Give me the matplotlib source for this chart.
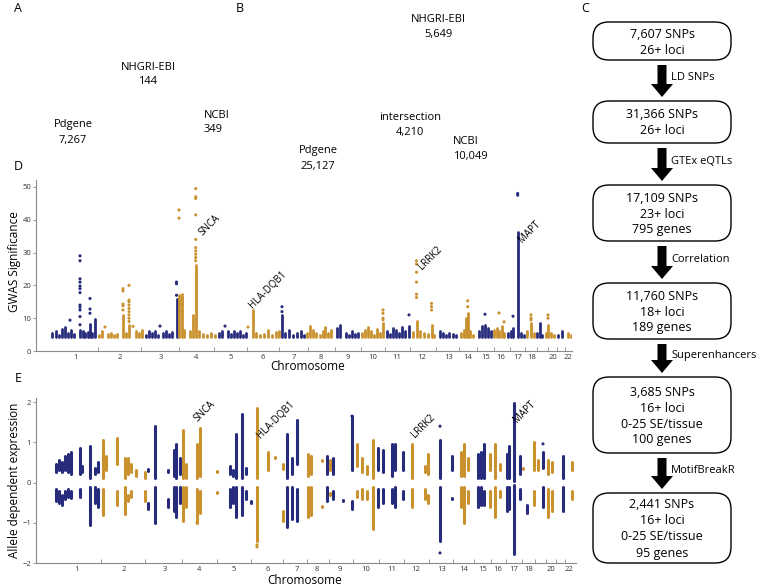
import numpy as np
import matplotlib
matplotlib.use("Agg")
import matplotlib.pyplot as plt
from matplotlib.patches import FancyBboxPatch, FancyArrow

plt.rcParams['font.family'] = ['Open Sans', 'DejaVu Sans']

BLUE = '#262b7c'
ORANGE = '#c9922f'
W, H = 761, 588

# ---------------- data ----------------
# panel D: (chromosome, position, top of dense stack) ; stacks start at the GWAS threshold
gwas_base = 4.2
gwas_cols = [
    (1, 52, 5.5), (1, 56, 6.2), (1, 59, 5.0), (1, 62, 6.8), (1, 65, 7.2), (1, 68, 5.6), (1, 71, 6.3),
    (1, 74, 5.2), (1, 80, 6.5), (1, 83, 6.0), (1, 85, 5.5), (1, 88, 5.8), (1, 90, 8.3), (1, 92, 5.5),
    (1, 95, 9.7),
    (2, 99, 5.0), (2, 102, 6.0), (2, 108, 5.2), (2, 111, 5.5), (2, 114, 5.0), (2, 117, 5.2),
    (2, 123, 11.0), (2, 126, 5.5), (2, 129, 8.0), (2, 136, 6.2), (2, 139, 5.5), (2, 142, 6.5),
    (3, 146, 5.0), (3, 149, 6.2), (3, 152, 5.5), (3, 155, 6.0), (3, 158, 5.0), (3, 163, 5.5),
    (3, 166, 6.0), (3, 169, 5.2), (3, 172, 5.8), (3, 176.5, 15.7),
    (4, 179, 17.0), (4, 182, 17.5), (4, 184, 6.5), (4, 190, 6.0), (4, 192.5, 11.0), (4, 195.7, 26.2),
    (4, 199, 6.0), (4, 203, 5.2), (4, 207, 5.0), (4, 211, 5.5), (4, 215, 5.0),
    (5, 219, 5.5), (5, 222, 6.2), (5, 228, 6.0), (5, 231, 5.2), (5, 234, 6.0), (5, 237, 5.5),
    (5, 240, 6.2), (5, 243, 5.0), (5, 246, 5.5),
    (6, 253, 12.4), (6, 256, 5.5), (6, 260, 5.0), (6, 264, 5.2), (6, 268, 6.5), (6, 272, 5.0),
    (6, 276, 5.8), (6, 279, 6.0),
    (7, 282, 11.0), (7, 285, 5.5), (7, 289, 6.5), (7, 293, 5.0), (7, 297, 5.5), (7, 301, 6.2), (7, 304, 5.0),
    (8, 307, 5.5), (8, 310, 7.6), (8, 313, 6.5), (8, 316, 5.5), (8, 320, 5.0), (8, 323, 6.0),
    (8, 325, 7.3), (8, 328, 5.5), (8, 331, 6.5),
    (9, 337, 7.0), (9, 340, 7.9), (9, 346, 5.5), (9, 349, 5.0), (9, 352, 6.0), (9, 355, 5.2), (9, 358, 5.5),
    (10, 362, 5.5), (10, 365, 6.5), (10, 368, 7.2), (10, 371, 6.0), (10, 374, 5.0), (10, 377, 6.8),
    (10, 380, 5.5), (10, 383, 8.5),
    (11, 387, 6.0), (11, 390, 5.2), (11, 393, 7.0), (11, 396, 6.5), (11, 399, 5.5), (11, 402, 7.2),
    (11, 405, 6.0), (11, 409, 7.5),
    (12, 413, 5.8), (12, 416.5, 9.0), (12, 420, 6.0), (12, 424, 5.5), (12, 428, 5.2), (12, 431.5, 8.0),
    (12, 434, 5.0),
    (13, 440, 6.0), (13, 443, 5.5), (13, 446, 5.0), (13, 449, 5.5), (13, 453, 5.2), (13, 456, 5.0),
    (14, 461, 5.5), (14, 464, 6.5), (14, 466, 10.0), (14, 467.7, 11.5), (14, 470, 6.0), (14, 473, 5.0),
    (15, 479, 6.0), (15, 482, 7.5), (15, 485, 8.0), (15, 488, 7.0), (15, 491, 6.0),
    (16, 494, 6.5), (16, 497, 7.0), (16, 499, 6.0), (16, 502, 7.5), (16, 504, 5.5),
    (17, 508, 5.5), (17, 511, 6.0), (17, 513, 7.0), (17, 517.7, 36.4), (17, 521, 5.5), (17, 524, 5.0),
    (18, 527, 6.0), (18, 531, 8.5), (18, 534, 5.5),
    (19, 537, 5.5), (19, 539.5, 8.6), (19, 542, 5.0),
    (20, 546, 5.5), (20, 548, 8.0), (20, 551, 5.5), (20, 554, 5.0),
    (21, 558, 5.0), (21, 562, 6.0),
    (22, 568, 5.5), (22, 571, 5.0),
]
# isolated SNPs above the stacks: (chromosome, position, significance)
gwas_pts = [
    (1, 70, 9.4), (1, 80, 29.0), (1, 80, 27.5), (1, 80, 22.0), (1, 80, 21.0), (1, 80, 19.8), (1, 80, 19.0),
    (1, 80, 17.8), (1, 80, 14.0), (1, 80, 13.3), (1, 80, 12.5), (1, 80, 10.5), (1, 80, 8.0),
    (1, 90, 16.0), (1, 90, 12.8), (1, 90, 11.5),
    (2, 105, 7.3), (2, 123, 19.0), (2, 123, 18.3), (2, 123, 14.3), (2, 123, 13.8), (2, 123, 12.5),
    (2, 129, 20.0), (2, 129, 15.5), (2, 129, 15.0), (2, 129, 14.0), (2, 129, 13.0), (2, 129, 12.0),
    (2, 129, 11.0), (2, 129, 10.0), (2, 129, 9.0), (2, 133, 7.5),
    (3, 160, 7.6), (3, 176.5, 21.0), (3, 176.5, 20.5), (3, 176.5, 17.0),
    (4, 179, 43.0), (4, 179, 40.5), (4, 182, 16.0), (4, 182, 14.0), (4, 182, 12.0),
    (4, 195.7, 27.5), (4, 195.7, 28.5), (4, 195.7, 29.5), (4, 195.7, 30.5), (4, 195.7, 31.5),
    (4, 195.7, 34.0), (4, 195.7, 41.5), (4, 195.7, 46.5), (4, 195.7, 47.0), (4, 195.7, 49.5),
    (5, 225, 7.6), (6, 248, 7.3),
    (7, 282, 13.5), (7, 282, 12.0),
    (10, 383, 12.5), (10, 383, 11.5), (10, 383, 10.0), (10, 383, 9.5),
    (11, 409, 11.0),
    (12, 416.5, 27.5), (12, 416.5, 26.5), (12, 416.5, 24.0), (12, 416.5, 21.0), (12, 416.5, 17.3),
    (12, 416.5, 16.3), (12, 431.5, 14.5), (12, 431.5, 13.5), (12, 431.5, 12.5),
    (14, 467.7, 15.3), (14, 467.7, 13.5),
    (15, 485, 11.2), (16, 499, 11.6), (16, 504, 8.9), (17, 513, 10.6),
    (17, 517.7, 48.0), (17, 517.7, 47.5),
    (18, 531, 11.0), (18, 531, 10.0), (18, 531, 9.5), (20, 548, 11.0), (20, 548, 10.0),
]
gwas_ticks = [76, 120, 161, 196, 231, 263, 294, 321, 348, 373, 397, 422, 449, 468, 486, 501,
              518, 532, 542, 553, 561, 568]
gwas_genes = [("SNCA", 210, 38.4), ("HLA-DQB1", 268, 18.6), ("LRRK2", 430, 28.4), ("MAPT", 530, 36.3)]

# panel E: (chromosome, position, up_low, up_high, down_high, down_low)
nan = np.nan
ade_cols = [
    (1, 56, 0.25, 0.45, -0.15, -0.45), (1, 59, 0.3, 0.55, -0.2, -0.5), (1, 62, 0.25, 0.5, -0.3, -0.55),
    (1, 65, 0.3, 0.65, -0.2, -0.4), (1, 68, 0.25, 0.7, -0.15, -0.35), (1, 71, 0.2, 0.75, -0.2, -0.38),
    (1, 80, 0.2, 0.85, -0.15, -0.35), (1, 82, 0.25, 0.4, nan, nan), (1, 90, 0.1, 0.9, -0.1, -1.05),
    (1, 95, 0.2, 0.35, -0.1, -0.5), (1, 98, 0.25, 0.5, -0.15, -0.6),
    (2, 103, 0.1, 1.05, -0.15, -0.8), (2, 106, 0.3, 0.65, nan, nan), (2, 117, 0.45, 1.1, -0.2, -0.55),
    (2, 125, 0.1, 0.62, -0.1, -0.78), (2, 128, 0.2, 0.6, -0.3, -0.45), (2, 131, 0.25, 0.45, -0.2, -0.35),
    (2, 136, 0.15, 0.3, nan, nan), (2, 145, 0.1, 0.25, -0.2, -0.45),
    (3, 148, 0.28, 0.33, -0.5, -0.65), (3, 155, 0.1, 1.4, -0.1, -1.0), (3, 168, 0.25, 0.3, -0.4, -0.6),
    (3, 174, 0.15, 0.8, -0.1, -0.7), (3, 176, 0.1, 0.95, -0.1, -0.85), (3, 180, 0.2, 0.6, -0.1, -0.5),
    (4, 183, 0.1, 1.3, -0.1, -0.95), (4, 186, 0.1, 0.45, -0.1, -0.6), (4, 197, 0.1, 0.95, -0.15, -1.0),
    (4, 200, 0.15, 1.35, -0.2, -0.75), (4, 217, 0.27, 0.29, -0.24, -0.26),
    (5, 230, 0.2, 0.4, -0.15, -0.6), (5, 233, 0.15, 0.3, -0.1, -0.5), (5, 236, 0.1, 1.2, -0.1, -0.85),
    (5, 242, 0.1, 1.7, -0.1, -0.8), (5, 246, 0.2, 0.35, -0.2, -0.4), (5, 251, nan, nan, -0.45, -0.5),
    (6, 257, 0.1, 1.85, -0.1, -1.45), (6, 268, 0.3, 0.75, nan, nan), (6, 275, 0.61, 0.63, nan, nan),
    (6, 283, 0.33, 0.45, -0.7, -0.95),
    (7, 287, 0.1, 1.2, -0.1, -1.1), (7, 292, 0.2, 0.6, -0.1, -0.9), (7, 297, 0.45, 1.55, -0.15, -0.95),
    (8, 308, 0.15, 0.72, -0.1, -0.85), (8, 311, 0.2, 0.65, -0.1, -0.8), (8, 322, 0.54, 0.56, -0.59, -0.61),
    (8, 330, 0.3, 0.55, -0.25, -0.3),
    (9, 327, 0.2, 0.65, -0.1, -0.45), (9, 333, 0.2, 0.6, -0.2, -0.4), (9, 343, nan, nan, -0.44, -0.46),
    (9, 352, 0.3, 1.65, -0.45, -0.65),
    (10, 357, 0.4, 0.95, -0.2, -0.35), (10, 362, 0.25, 0.6, -0.15, -0.4), (10, 367, 0.2, 0.4, -0.2, -0.4),
    (10, 373, 0.1, 1.05, -0.1, -1.15),
    (11, 378, 0.3, 0.85, -0.15, -0.6), (11, 383, 0.25, 0.8, -0.15, -0.5), (11, 392, 0.15, 0.95, -0.15, -0.5),
    (11, 395, 0.3, 0.95, -0.1, -0.6), (11, 403, 0.3, 0.75, -0.2, -0.4),
    (12, 412, 0.1, 0.95, -0.15, -0.6), (12, 425, 0.25, 0.4, -0.15, -0.4), (12, 428, 0.2, 0.7, -0.3, -0.5),
    (13, 440, 0.1, 1.05, -0.1, -1.45), (13, 452, 0.3, 0.65, -0.39, -0.41),
    (14, 461, 0.15, 0.75, -0.1, -0.6), (14, 464, 0.15, 0.95, -0.1, -1.0), (14, 468, 0.3, 0.6, -0.2, -0.5),
    (15, 478, 0.1, 0.7, -0.1, -0.6), (15, 481, 0.1, 0.75, -0.1, -0.55), (15, 484, 0.1, 0.95, -0.2, -0.55),
    (16, 490, 0.3, 0.7, -0.2, -0.6), (16, 495, 0.1, 0.95, -0.1, -0.85), (16, 500, 0.3, 0.45, -0.2, -0.35),
    (17, 507, 0.1, 0.7, -0.1, -0.7), (17, 509, 0.1, 0.9, -0.1, -0.65), (17, 514, 0.05, 1.98, -0.05, -1.78),
    (17, 520, 0.2, 0.65, -0.15, -0.4), (17, 527, nan, nan, -0.55, -0.75),
    (18, 523, 0.34, 0.36, nan, nan), (18, 534, 0.3, 1.0, -0.2, -0.55), (18, 538, 0.3, 0.55, nan, nan),
    (19, 543, 0.35, 0.75, -0.1, -0.6),
    (20, 548, 0.2, 0.55, -0.15, -0.85), (20, 552, 0.25, 0.5, -0.2, -0.7),
    (21, 563, 0.1, 0.65, -0.1, -0.7),
    (22, 572, 0.3, 0.5, -0.2, -0.4),
]
ade_pts = [(6, 257, -1.55), (6, 257, -1.6), (13, 440, 1.4), (13, 440, -1.75), (19, 543, 0.96),
           (4, 197, -1.0), (9, 352, 1.65)]
ade_ticks = [77, 124, 165, 199, 234, 268, 297, 317, 340, 366, 392, 416, 442, 464, 483, 498,
             514, 529, 540, 551, 561, 569]
ade_genes = [("SNCA", 205, 1.76), ("HLA-DQB1", 276, 1.57), ("LRRK2", 423, 1.39), ("MAPT", 525, 1.76)]
shown_chroms = [str(c) if c not in (19, 21) else '' for c in range(1, 23)]

# panels A/B: Venn counts (circles not drawn in source)
venn_a = [("Pdgene", "7,267"), ("NHGRI-EBI", "144"), ("NCBI", "349")]
venn_b = [("Pdgene", "25,127"), ("NHGRI-EBI", "5,649"), ("NCBI", "10,049"), ("intersection", "4,210")]

# panel C: filtering steps
flow_boxes = ["7,607 SNPs\n26+ loci",
              "31,366 SNPs\n26+ loci",
              "17,109 SNPs\n23+ loci\n795 genes",
              "11,760 SNPs\n18+ loci\n189 genes",
              "3,685 SNPs\n16+ loci\n0-25 SE/tissue\n100 genes",
              "2,441 SNPs\n16+ loci\n0-25 SE/tissue\n95 genes"]
flow_steps = ["LD SNPs", "GTEx eQTLs", "Correlation", "Superenhancers", "MotifBreakR"]


def col(chrom):
    return BLUE if chrom % 2 == 1 else ORANGE


def fig_rect(l, r, t, b):
    return [l / W, 1 - b / H, (r - l) / W, (b - t) / H]


fig = plt.figure(figsize=(W / 100, H / 100), dpi=100)

# overlay for free text and flowchart
ov = fig.add_axes([0, 0, 1, 1])
ov.set_xlim(0, W)
ov.set_ylim(H, 0)
ov.axis('off')


def style_axis(ax, ticks, xlim):
    ax.set_xlim(*xlim)
    for s in ('top', 'right'):
        ax.spines[s].set_visible(False)
    for s in ('left', 'bottom'):
        ax.spines[s].set_color('#8a8a8a')
        ax.spines[s].set_linewidth(0.8)
    ax.set_xticks(ticks)
    ax.set_xticklabels(shown_chroms)
    bounds = [(a + b) / 2 for a, b in zip(ticks[:-1], ticks[1:])]
    ax.set_xticks(bounds, minor=True)
    ax.tick_params(axis='x', which='major', length=0, pad=2, labelsize=5.5, labelcolor='#333333')
    ax.tick_params(axis='x', which='minor', length=3, direction='in', color='#8a8a8a')
    ax.tick_params(axis='y', length=2, width=0.6, color='#8a8a8a', pad=1.5, labelsize=5.5,
                   labelcolor='#333333')


# ---- panel D ----
axd = fig.add_axes(fig_rect(36, 572, 180.4, 351))
for c, x, top in gwas_cols:
    axd.vlines(x, gwas_base, top, colors=col(c), lw=2.0, capstyle='round')
px = [p[1] for p in gwas_pts]
py = [p[2] for p in gwas_pts]
axd.scatter(px, py, s=5, c=[col(p[0]) for p in gwas_pts], linewidths=0)
style_axis(axd, gwas_ticks, (36, 572))
axd.set_ylim(0, 52)
axd.set_yticks([0, 10, 20, 30, 40, 50])
for name, x, y in gwas_genes:
    axd.text(x, y, name, rotation=45, ha='center', va='center', fontsize=7)

# ---- panel E ----
axe = fig.add_axes(fig_rect(36, 576, 398, 563))
for c, x, ul, uh, dh, dl in ade_cols:
    if not np.isnan(ul):
        axe.vlines(x, ul, uh, colors=col(c), lw=2.2, capstyle='round')
    if not np.isnan(dh):
        axe.vlines(x, dl, dh, colors=col(c), lw=2.2, capstyle='round')
axe.scatter([p[1] for p in ade_pts], [p[2] for p in ade_pts], s=5,
            c=[col(p[0]) for p in ade_pts], linewidths=0)
style_axis(axe, ade_ticks, (36, 576))
axe.set_ylim(-2, 2.1)
axe.set_yticks([-2, -1, 0, 1, 2])
for name, x, y in ade_genes:
    axe.text(x, y, name, rotation=45, ha='center', va='center', fontsize=7)

# axis titles
ov.text(15, 262, "GWAS Significance", rotation=90, ha='center', va='center', fontsize=8.5)
ov.text(308, 367, "Chromosome", ha='center', va='center', fontsize=8.5)
ov.text(15, 480, "Allele dependent expression", rotation=90, ha='center', va='center', fontsize=8.5)
ov.text(305, 580, "Chromosome", ha='center', va='center', fontsize=8.5)

# panel letters
for lab, x, y in [("A", 18, 8), ("B", 240, 8), ("C", 585, 8), ("D", 18, 167), ("E", 18, 378)]:
    ov.text(x, y, lab, ha='center', va='center', fontsize=9)

# Venn counts
venn_pos_a = [(73, 125, 'center'), (148, 67, 'center'), (204, 115, 'left')]
venn_pos_b = [(318, 151, 'center'), (438, 19, 'center'), (453, 142, 'left'), (410, 117, 'center')]
for (name, n), (x, y, ha) in zip(venn_a + venn_b, venn_pos_a + venn_pos_b):
    ov.text(x, y, name, ha=ha, va='center', fontsize=8)
    ov.text(x, y + 15, n, ha=ha, va='center', fontsize=8)

# ---- panel C flowchart ----
box_y = [(22, 60), (101, 143), (185, 241), (283, 339), (377, 453), (493, 563)]
bx0, bx1, cx = 593, 731, 662
for txt, (t, b) in zip(flow_boxes, box_y):
    ov.add_patch(FancyBboxPatch((bx0, t), bx1 - bx0, b - t,
                                boxstyle="round,pad=0,rounding_size=16",
                                fc='white', ec='black', lw=1.0))
    ov.text(cx, (t + b) / 2 + 1, txt, ha='center', va='center', fontsize=9, linespacing=1.3)
for i, step in enumerate(flow_steps):
    y0 = box_y[i][1] + 5
    y1 = box_y[i + 1][0] - 4
    ov.add_patch(FancyArrow(cx, y0, 0, y1 - y0, width=9, head_width=22, head_length=13,
                            length_includes_head=True, color='black', lw=0))
    ov.text(cx + 9, (y0 + y1) / 2 - 3, step, ha='left', va='center', fontsize=8)

fig.savefig("out.png", dpi=100)
